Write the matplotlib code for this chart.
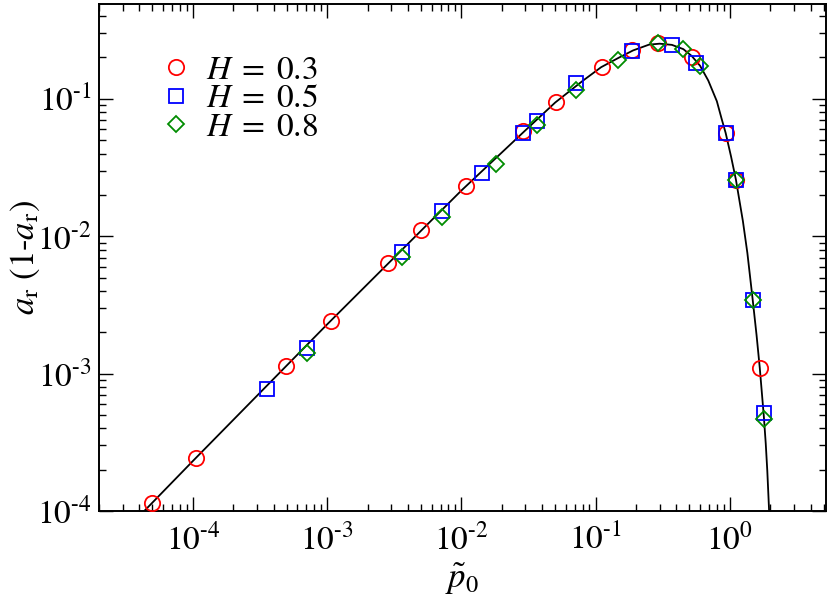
import matplotlib
matplotlib.use("Agg")
import matplotlib.pyplot as plt
import numpy as np
from matplotlib.ticker import LogLocator, FuncFormatter, NullFormatter

plt.rcParams['font.family'] = ['STIXGeneral', 'DejaVu Serif']
plt.rcParams['mathtext.fontset'] = 'stix'

# theory curve
curve_x = [4.0e-5, 1.0e-4, 1.0e-3, 1.0e-2, 3.0e-2, 5.0e-2, 0.08, 0.11, 0.15, 0.19,
           0.25, 0.30, 0.37, 0.45, 0.52, 0.60, 0.69, 0.80, 0.87, 0.93, 1.02, 1.11,
           1.25, 1.35, 1.48, 1.58, 1.67, 1.79, 1.85, 1.90, 1.96, 2.0]
curve_y = [9.2e-5, 2.31e-4, 2.28e-3, 2.15e-2, 5.9e-2, 9.4e-2, 0.135, 0.170, 0.200, 0.225,
           0.248, 0.252, 0.247, 0.230, 0.205, 0.174, 0.136, 0.096, 0.071, 0.0565, 0.0381,
           0.0257, 0.0129, 7.55e-3, 3.43e-3, 1.91e-3, 1.1e-3, 4.9e-4, 3.1e-4, 1.96e-4,
           1.0e-4, 6.0e-5]

# H = 0.3
h03_x = [4.94e-5, 1.05e-4, 4.94e-4, 1.07e-3, 2.85e-3, 5.03e-3, 1.09e-2, 2.9e-2, 5.03e-2,
         0.111, 0.186, 0.29, 0.52, 0.93, 1.11, 1.67]
h03_y = [1.14e-4, 2.43e-4, 1.13e-3, 2.42e-3, 6.4e-3, 1.11e-2, 2.32e-2, 5.85e-2, 9.5e-2,
         0.171, 0.227, 0.256, 0.202, 0.0565, 0.0257, 1.1e-3]
# H = 0.5
h05_x = [3.56e-4, 7.1e-4, 3.63e-3, 7.2e-3, 1.43e-2, 2.9e-2, 3.63e-2, 7.2e-2, 0.186,
         0.369, 0.557, 0.93, 1.11, 1.48, 1.79]
h05_y = [7.7e-4, 1.54e-3, 7.7e-3, 1.53e-2, 2.89e-2, 5.65e-2, 6.92e-2, 0.131, 0.224,
         0.247, 0.183, 0.0565, 0.0257, 3.43e-3, 5.16e-4]
# H = 0.8
h08_x = [7.1e-4, 3.63e-3, 7.2e-3, 1.82e-2, 3.63e-2, 7.2e-2, 0.148, 0.29, 0.446, 0.597,
         1.11, 1.48, 1.79]
h08_y = [1.41e-3, 7.06e-3, 1.38e-2, 3.37e-2, 6.47e-2, 0.116, 0.192, 0.256, 0.231, 0.174,
         0.0257, 3.43e-3, 4.68e-4]

labels = [r'$H\;=\;0.3$', r'$H\;=\;0.5$', r'$H\;=\;0.8$']


def pow10(v, pos):
    e = int(round(np.log10(v)))
    if e < 0:
        return r'$10^{\text{-}%d}$' % (-e)
    return r'$10^{%d}$' % e


fig = plt.figure(figsize=(8.3, 6.08), dpi=100)
ax = fig.add_axes([99/830, 97/608, (826-99)/830, (511-4)/608])

ax.plot(curve_x, curve_y, color='black', lw=1.3, zorder=1)
ax.plot(h03_x, h03_y, 'o', ls='none', mfc='none', mec='#ff0000', mew=1.3, ms=11,
        label=labels[0], zorder=3)
ax.plot(h05_x, h05_y, 's', ls='none', mfc='none', mec='#0000ff', mew=1.3, ms=9.5,
        label=labels[1], zorder=4)
ax.plot(h08_x, h08_y, 'D', ls='none', mfc='none', mec='#008c00', mew=1.3, ms=8.5,
        label=labels[2], zorder=5)

ax.set_xscale('log')
ax.set_yscale('log')
ax.set_xlim(2e-5, 5.2)
ax.set_ylim(1e-4, 0.49)

ax.xaxis.set_major_locator(LogLocator(base=10, numticks=20))
ax.yaxis.set_major_locator(LogLocator(base=10, numticks=20))
ax.xaxis.set_minor_locator(LogLocator(base=10, subs=range(2, 10), numticks=100))
ax.yaxis.set_minor_locator(LogLocator(base=10, subs=range(2, 10), numticks=100))
ax.xaxis.set_major_formatter(FuncFormatter(pow10))
ax.yaxis.set_major_formatter(FuncFormatter(pow10))
ax.xaxis.set_minor_formatter(NullFormatter())
ax.yaxis.set_minor_formatter(NullFormatter())

ax.tick_params(which='both', direction='in', top=True, right=True, width=1.0,
               labelsize=24)
ax.tick_params(which='major', length=10)
ax.tick_params(axis='x', which='major', pad=9)
ax.tick_params(axis='y', which='major', pad=5)
ax.tick_params(which='minor', length=5)
for s in ax.spines.values():
    s.set_linewidth(1.4)

ax.set_xlabel(r'$\tilde{p}_0$', fontsize=25, labelpad=4)
ax.set_ylabel(r'$a_\mathrm{r}\ (1$-$a_\mathrm{r})$', fontsize=25)
ax.yaxis.set_label_coords(-0.079, 0.5)

leg = ax.legend(loc='upper left', bbox_to_anchor=(0.051, 0.945), frameon=False,
                fontsize=24, handlelength=1.0, handletextpad=0.4,
                labelspacing=-0.05, borderpad=0.2, numpoints=1)

fig.savefig('out.png', dpi=100)
